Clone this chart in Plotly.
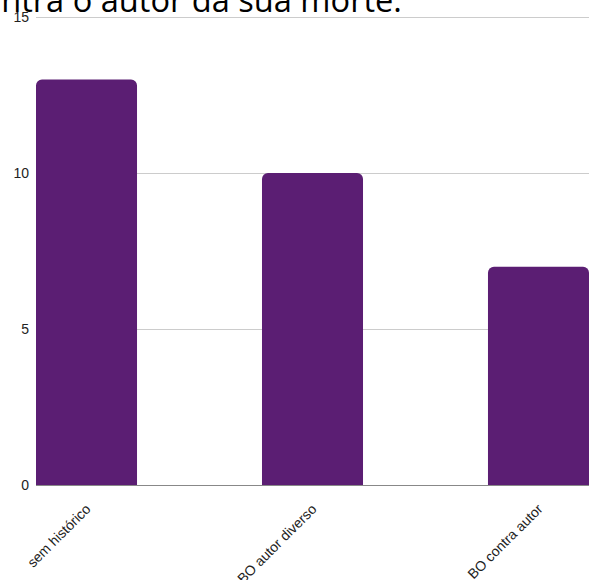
import plotly.graph_objects as go

# Data
categories = ["sem histórico", "BO autor diverso", "BO contra autor"]
counts = [13, 10, 7]
y_ticks = [0, 5, 10, 15]
title_text = "contra o autor da sua morte."

BAR_COLOR = "#5b1e73"

fig = go.Figure(
    go.Bar(
        x=categories,
        y=counts,
        marker=dict(color=BAR_COLOR, cornerradius=6, line=dict(width=0)),
        hoverinfo="x+y",
    )
)

fig.update_layout(
    width=589,
    height=580,
    margin=dict(l=36, r=0, t=16, b=95, autoexpand=False),
    paper_bgcolor="white",
    plot_bgcolor="white",
    bargap=0.553,
    showlegend=False,
    font=dict(family="Liberation Sans, Arial, sans-serif", color="#222222"),
)

fig.update_xaxes(
    type="category",
    range=[-0.2235, 2.2235],
    tickangle=-45,
    tickfont=dict(size=14, color="#222222"),
    showgrid=False,
    showline=False,
    zeroline=False,
    ticks="",
    ticklabelstandoff=12,
    automargin=False,
)

fig.update_yaxes(
    range=[0, 15.035],
    tickvals=y_ticks,
    ticktext=[str(v) for v in y_ticks],
    tickfont=dict(size=14, color="#222222"),
    showgrid=True,
    gridcolor="#cccccc",
    gridwidth=1,
    zeroline=True,
    zerolinecolor="#888888",
    zerolinewidth=1,
    showline=False,
    ticks="",
    ticklabelstandoff=6,
    automargin=False,
)

# Chart title, running past the top of the page
fig.add_annotation(
    text=title_text,
    xref="paper",
    yref="paper",
    x=(404 - 36) / 553,
    y=1.0,
    xanchor="right",
    yanchor="bottom",
    yshift=-8,
    showarrow=False,
    font=dict(family="Open Sans, Noto Sans, sans-serif", size=32.6, color="#000000"),
)

fig.write_html("out.html")
